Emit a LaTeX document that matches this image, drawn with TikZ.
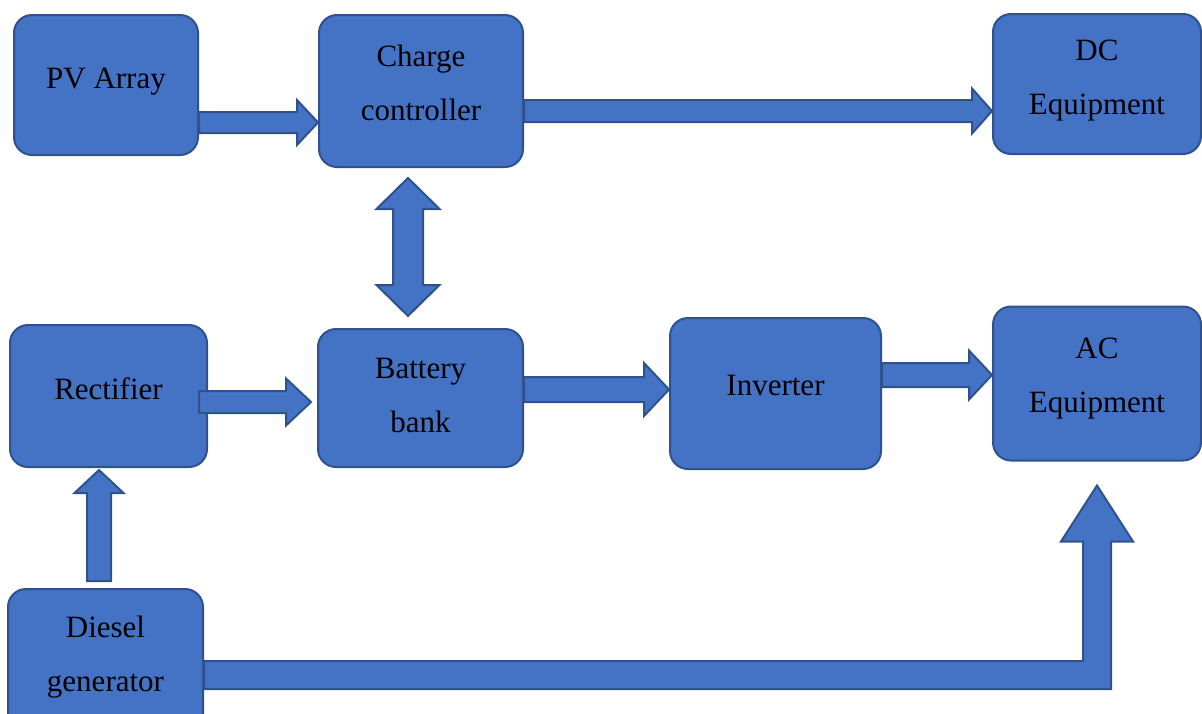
\documentclass[tikz,border=0pt]{standalone}
\usepackage{fontspec}
\setmainfont{Liberation Serif}
\usetikzlibrary{calc}
\definecolor{boxfill}{HTML}{4472C4}
\definecolor{boxline}{HTML}{2F528F}
\tikzset{
Box/.style={draw=boxline,fill=boxfill,line width=2pt,rounded corners=18pt,inner sep=0pt,align=center,
	font=\fontsize{31}{54}\selectfont,text height=21pt,text depth=15pt},
TwoLine/.style={text depth=0pt,text height=#1},
Arrow/.style={draw=boxline,fill=boxfill,line width=2pt,line join=miter}
}
% #1 from, #2 to, #3 shaft half width, #4 head half width, #5 head length
\newcommand{\BlockArrow}[5]{%
	\coordinate (hb) at ($(#2)!#5pt!(#1)$);%
	\draw[Arrow] ($(#1)!#3pt!90:(#2)$) -- ($(hb)!#3pt!90:(#2)$) -- ($(hb)!#4pt!90:(#2)$) -- (#2)
		-- ($(hb)!#4pt!-90:(#2)$) -- ($(hb)!#3pt!-90:(#2)$) -- ($(#1)!#3pt!-90:(#2)$) -- cycle;%
}
\newcommand{\DoubleBlockArrow}[5]{%
	\coordinate (ha) at ($(#1)!#5pt!(#2)$);%
	\coordinate (hb) at ($(#2)!#5pt!(#1)$);%
	\draw[Arrow] (#1) -- ($(ha)!#4pt!90:(#2)$) -- ($(ha)!#3pt!90:(#2)$) -- ($(hb)!#3pt!90:(#2)$) -- ($(hb)!#4pt!90:(#2)$) -- (#2)
		-- ($(hb)!#4pt!-90:(#2)$) -- ($(hb)!#3pt!-90:(#2)$) -- ($(ha)!#3pt!-90:(#2)$) -- ($(ha)!#4pt!-90:(#2)$) -- cycle;%
}

\begin{document}
\begin{tikzpicture}[x=1pt,y=-1pt]
	\useasboundingbox (0,0) rectangle (1202,713);
	
	% blocks
	\node[Box,minimum width=184,minimum height=140] (pv) at (106,85) {PV Array};
	\node[Box,minimum width=204,minimum height=152,TwoLine=58pt] (cc) at (421,91) {Charge\\controller};
	\node[Box,minimum width=208,minimum height=140,TwoLine=60pt] (dc) at (1097,84) {DC\\Equipment};
	\node[Box,minimum width=197,minimum height=142] (rect) at (108.5,396) {Rectifier};
	\node[Box,minimum width=205,minimum height=138,TwoLine=68pt] (bat) at (420.5,398) {Battery\\bank};
	\node[Box,minimum width=211,minimum height=151,text depth=18pt] (inv) at (775.5,393.5) {Inverter};
	\node[Box,minimum width=208,minimum height=154,TwoLine=57pt] (ac) at (1097,383.5) {AC\\Equipment};
	\node[Box,minimum width=195,minimum height=151,TwoLine=53pt] (dg) at (105.5,664.5) {Diesel\\generator};
	
	% arrows
	\coordinate (s1) at ($(pv.east)+(0,37.5)$);
	\BlockArrow{s1}{s1 -| cc.west}{10.5}{22.5}{21}
	\coordinate (s2) at ($(cc.east)+(0,20)$);
	\BlockArrow{s2}{s2 -| dc.west}{11}{22.5}{20}
	\coordinate (s3) at ($(cc.south)+(-13,10)$);
	\coordinate (e3) at ($(s3 |- bat.north)+(0,-12)$);
	\DoubleBlockArrow{s3}{e3}{15}{31.5}{31}
	\coordinate (s4) at ($(rect.east)+(-9,6)$);
	\coordinate (e4) at ($(s4 -| bat.west)+(-6,0)$);
	\BlockArrow{s4}{e4}{11}{23.5}{25}
	\coordinate (s5) at ($(bat.east)+(0,-8.5)$);
	\BlockArrow{s5}{s5 -| inv.west}{12.5}{26.5}{25}
	\coordinate (s6) at ($(inv.east)+(0,-18.5)$);
	\BlockArrow{s6}{s6 -| ac.west}{12}{24.5}{23}
	\coordinate (s7) at ($(dg.north)+(-6.5,-7)$);
	\coordinate (e7) at ($(s7 |- rect.south)+(0,2)$);
	\BlockArrow{s7}{e7}{12}{24.5}{23}
	
	% diesel to AC, bent
	\coordinate (t0) at ($(dg.east)+(0,10.5)$);
	\coordinate (t1) at ($(ac.south)+(0,24)$);
	\draw[Arrow] ($(t0)+(0,-14)$) -- ($(t0 -| t1)+(-14,-14)$) -- ($(t1)+(-14,56)$) -- ($(t1)+(-36,56)$) -- (t1)
		-- ($(t1)+(36,56)$) -- ($(t1)+(14,56)$) -- ($(t0 -| t1)+(14,14)$) -- ($(t0)+(0,14)$) -- cycle;
	
\end{tikzpicture}
\end{document}
